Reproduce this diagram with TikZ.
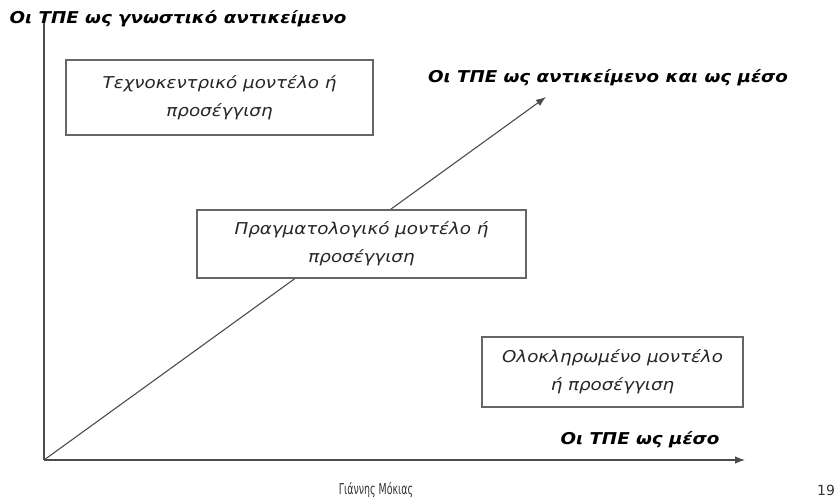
\documentclass[tikz,border=0pt]{standalone}
\usepackage{fontspec}
\setmainfont{DejaVu Sans}
\newfontfamily\widefont[FakeStretch=1.12]{DejaVu Sans}
\newfontfamily\narrowfont[FakeStretch=0.63]{DejaVu Sans}
\usetikzlibrary{arrows.meta}
\tikzset{
  x=1pt,y=-1pt,
  axis/.style={draw=black!70,line width=1.1pt,-{Latex[length=10pt,width=7.5pt]}},
  modelbox/.style={draw=black!60,line width=1.1pt,fill=white,align=center,
    font=\widefont\fontsize{16.3}{28}\selectfont\itshape,text=black!85,inner sep=0pt},
  axlabel/.style={font=\widefont\fontsize{16.3}{18}\selectfont\bfseries\itshape,inner sep=0pt},
  foot/.style={font=\narrowfont\fontsize{15}{17}\selectfont,text=black!80,inner sep=0pt}
}
\begin{document}
\begin{tikzpicture}
\useasboundingbox (0,0) rectangle (839,497);
\coordinate (O) at (44,460);
\coordinate (ytop) at (44,20);
\coordinate (xend) at (745,460);
\coordinate (dend) at (546,97);
\draw[draw=black!70,line width=1.1pt] (O) -- (ytop);
\draw[axis] (O) -- (xend);
\draw[axis] (O) -- (dend);
\node[modelbox,minimum width=307,minimum height=75] (b1) at (219.5,97.5) {Τεχνοκεντρικό μοντέλο ή\\προσέγγιση};
\node[modelbox,minimum width=329,minimum height=68] (b2) at (361.5,244) {Πραγματολογικό μοντέλο ή\\προσέγγιση};
\node[modelbox,minimum width=261,minimum height=70] (b3) at (612.5,372) {Ολοκληρωμένο μοντέλο\\ή προσέγγιση};
\node[axlabel] (t1) at (178,19) {Οι ΤΠΕ ως γνωστικό αντικείμενο};
\node[axlabel] (t2) at (608,78) {Οι ΤΠΕ ως αντικείμενο και ως μέσο};
\node[axlabel] (t3) at (640,440) {Οι ΤΠΕ ως μέσο};
\node[foot] (au) at (376,490) {Γιάννης Μόκιας};
\node[foot,font=\fontsize{14}{16}\selectfont] (pg) at (826,490) {19};
\end{tikzpicture}
\end{document}
